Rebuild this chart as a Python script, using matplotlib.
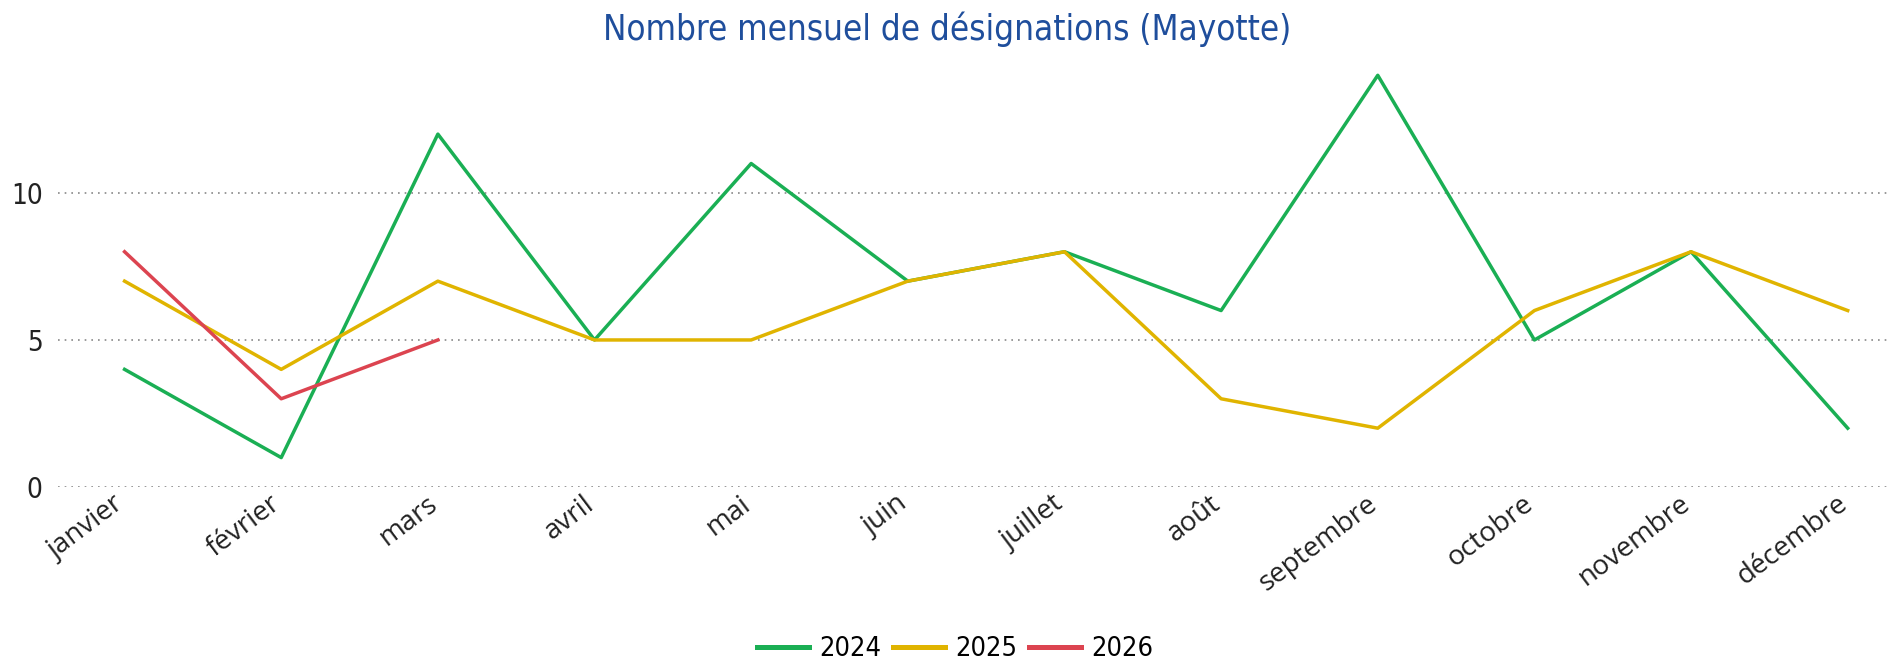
import matplotlib
matplotlib.use("Agg")
import matplotlib.pyplot as plt
import matplotlib.transforms as mtransforms

mois = ["janvier", "février", "mars", "avril", "mai", "juin", "juillet",
        "août", "septembre", "octobre", "novembre", "décembre"]
v2024 = [4, 1, 12, 5, 11, 7, 8, 6, 14, 5, 8, 2]
v2025 = [7, 4, 7, 5, 5, 7, 8, 3, 2, 6, 8, 6]
v2026 = [8, 3, 5]

couleurs = {"2024": "#1AAF54", "2025": "#E0B400", "2026": "#DC4450"}

fig = plt.figure(figsize=(18.95, 6.60), dpi=100)
ax = fig.add_axes([58 / 1895, (660 - 487) / 660, (1890 - 58) / 1895, (487 - 70) / 660])

x = list(range(len(mois)))
ax.plot(x, v2024, color=couleurs["2024"], lw=2.5, label="2024", clip_on=False)
ax.plot(x, v2025, color=couleurs["2025"], lw=2.5, label="2025", clip_on=False)
ax.plot(x[:len(v2026)], v2026, color=couleurs["2026"], lw=2.5, label="2026", clip_on=False)

ax.set_xlim(-0.425, 11.27)
ax.set_ylim(0, 14.18)
ax.set_yticks([0, 5, 10])
ax.yaxis.grid(True, linestyle=(0, (1, 3)), color="#888888", lw=1.2)
ax.set_axisbelow(True)
for s in ax.spines.values():
    s.set_visible(False)
ax.tick_params(axis="both", length=0, colors="#222222")
ax.tick_params(axis="y", pad=11, labelsize=20)
ax.tick_params(axis="x", pad=5)
ax.set_xticks(x)
ax.set_xticklabels(mois, rotation=37, ha="right", rotation_mode="anchor",
                   family="Open Sans", fontsize=20)
decalage = mtransforms.ScaledTranslation(-12 / 100, 4 / 100, fig.dpi_scale_trans)
for t in ax.get_xticklabels():
    t.set_transform(t.get_transform() + decalage)
for t in ax.get_yticklabels():
    t.set_family("DejaVu Sans")
    t.set_stretch("condensed")

fig.text(0.5, 1 - 29 / 660, "Nombre mensuel de désignations (Mayotte)",
         ha="center", va="center", fontsize=25, color="#1F4E9C",
         family="DejaVu Sans", stretch="condensed")

leg = fig.legend(loc="center", bbox_to_anchor=(955 / 1895, 1 - 649 / 660), ncol=3,
                 frameon=False, handlelength=1.93, columnspacing=0.42, handletextpad=0.38,
                 prop={"family": "DejaVu Sans", "stretch": "condensed", "size": 19.5})
for line in leg.get_lines():
    line.set_linewidth(3.6)

fig.savefig("out.png", dpi=100)
